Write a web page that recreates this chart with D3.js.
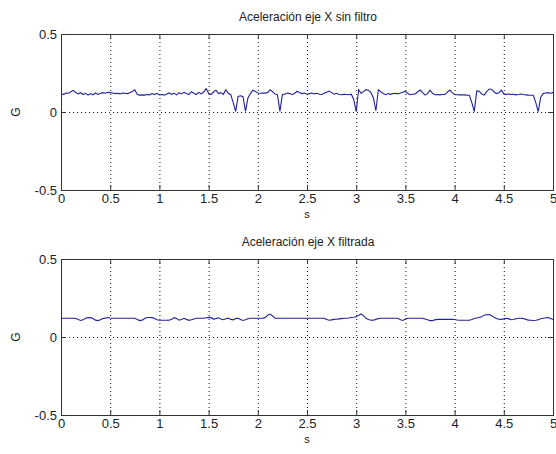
<!DOCTYPE html>
<html>
<head>
<meta charset="utf-8">
<script src="https://cdn.jsdelivr.net/npm/d3@7"></script>
<style>
  body { margin: 0; background: #fff; }
  text { font-family: "Liberation Sans", Arial, sans-serif; fill: #222; }
</style>
</head>
<body>
<div id="chart"></div>
<script>
// samples every 0.025 s, 0 .. 5 s
var step = 0.025;

var rawValues = [
  0.118,0.112,0.122,0.120,0.130,0.139,0.125,0.116,0.124,0.112,
  0.120,0.108,0.118,0.110,0.122,0.113,0.118,0.124,0.120,0.126,
  0.124,0.122,0.118,0.120,0.116,0.122,0.120,0.118,0.124,0.132,
  0.143,0.112,0.108,0.110,0.108,0.112,0.110,0.118,0.112,0.120,
  0.110,0.112,0.108,0.116,0.122,0.113,0.120,0.110,0.124,0.116,
  0.126,0.118,0.112,0.130,0.120,0.112,0.126,0.116,0.128,0.150,
  0.120,0.112,0.128,0.140,0.118,0.124,0.113,0.143,0.120,0.111,
  0.060,0.004,0.100,0.104,0.098,0.004,0.090,0.118,0.140,0.132,
  0.122,0.120,0.122,0.121,0.124,0.143,0.130,0.115,0.110,0.004,
  0.111,0.116,0.122,0.118,0.111,0.120,0.133,0.124,0.118,0.122,
  0.113,0.118,0.122,0.116,0.120,0.114,0.112,0.120,0.126,0.134,
  0.124,0.114,0.120,0.112,0.111,0.113,0.112,0.111,0.114,0.080,
  0.002,0.143,0.120,0.132,0.143,0.140,0.124,0.090,0.008,0.143,
  0.130,0.118,0.111,0.118,0.113,0.118,0.120,0.116,0.122,0.126,
  0.133,0.118,0.111,0.114,0.116,0.130,0.141,0.124,0.108,0.118,
  0.140,0.120,0.111,0.112,0.110,0.112,0.113,0.126,0.141,0.124,
  0.113,0.111,0.110,0.111,0.110,0.108,0.107,0.060,0.002,0.135,
  0.133,0.115,0.108,0.130,0.146,0.146,0.130,0.118,0.124,0.140,
  0.116,0.113,0.115,0.112,0.113,0.110,0.112,0.115,0.112,0.110,
  0.108,0.107,0.107,0.060,0.002,0.095,0.118,0.122,0.124,0.120,
  0.124
];

var filteredValues = [
  0.116,0.120,0.120,0.120,0.120,0.120,0.119,0.112,0.106,0.110,
  0.120,0.124,0.124,0.118,0.108,0.105,0.110,0.118,0.121,0.125,
  0.122,0.120,0.120,0.120,0.120,0.120,0.120,0.120,0.120,0.120,
  0.120,0.112,0.105,0.108,0.118,0.125,0.125,0.124,0.118,0.110,
  0.107,0.107,0.107,0.107,0.108,0.114,0.124,0.118,0.108,0.112,
  0.120,0.113,0.107,0.110,0.116,0.120,0.120,0.120,0.121,0.123,
  0.126,0.124,0.115,0.118,0.123,0.116,0.111,0.117,0.121,0.113,
  0.110,0.118,0.120,0.112,0.106,0.110,0.117,0.120,0.120,0.120,
  0.120,0.120,0.120,0.124,0.140,0.147,0.135,0.121,0.120,0.120,
  0.120,0.120,0.120,0.120,0.120,0.120,0.120,0.120,0.120,0.120,
  0.120,0.120,0.120,0.120,0.120,0.120,0.120,0.120,0.112,0.107,
  0.110,0.113,0.114,0.116,0.118,0.120,0.120,0.122,0.125,0.127,
  0.130,0.140,0.148,0.135,0.120,0.112,0.107,0.108,0.113,0.118,
  0.120,0.120,0.120,0.120,0.120,0.120,0.120,0.120,0.110,0.106,
  0.115,0.120,0.120,0.120,0.120,0.120,0.120,0.120,0.116,0.110,
  0.105,0.105,0.110,0.113,0.113,0.113,0.113,0.113,0.113,0.113,
  0.112,0.109,0.107,0.107,0.107,0.107,0.107,0.112,0.119,0.122,
  0.125,0.130,0.140,0.143,0.144,0.138,0.126,0.119,0.114,0.113,
  0.116,0.120,0.116,0.111,0.112,0.117,0.120,0.120,0.118,0.113,
  0.108,0.107,0.106,0.107,0.111,0.117,0.120,0.123,0.125,0.118,
  0.112
];

var xTicks = [0, 0.5, 1, 1.5, 2, 2.5, 3, 3.5, 4, 4.5, 5];
var yTicks = [-0.5, 0, 0.5];
var titles = ["Aceleración eje X sin filtro", "Aceleración eje X filtrada"];

var W = 556, H = 454;
var left = 61, right = 553, plotH = 156;
var tops = [34, 259];

var svg = d3.select("#chart").append("svg")
    .attr("width", W)
    .attr("height", H);

var x = d3.scaleLinear().domain([0, 5]).range([left, right]);

var line = d3.line()
    .x(function(d, i) { return x(i * step); })
    .y(function(d) { return d; });

// plain hyphen for negatives, like the original figure
var fmt = function(d) { return String(d); };

function drawPanel(top, values, title) {
  var y = d3.scaleLinear().domain([-0.5, 0.5]).range([top + plotH, top]);
  var g = svg.append("g");

  // dotted grid
  g.selectAll(".vgrid")
      .data(xTicks.filter(function(t) { return t > 0 && t < 5; }))
    .enter().append("line")
      .attr("x1", function(d) { return x(d) + 0.5; })
      .attr("x2", function(d) { return x(d) + 0.5; })
      .attr("y1", top)
      .attr("y2", top + plotH)
      .attr("stroke", "#111")
      .attr("stroke-width", 1)
      .attr("stroke-dasharray", "1,3");
  g.selectAll(".hgrid")
      .data([0])
    .enter().append("line")
      .attr("x1", left)
      .attr("x2", right)
      .attr("y1", function(d) { return y(d) + 0.5; })
      .attr("y2", function(d) { return y(d) + 0.5; })
      .attr("stroke", "#111")
      .attr("stroke-width", 1)
      .attr("stroke-dasharray", "1,3");

  // data line
  g.append("path")
      .datum(values.map(function(v) { return y(v); }))
      .attr("fill", "none")
      .attr("stroke", "#22229a")
      .attr("stroke-width", 1.1)
      .attr("d", line);

  // axes with ticks inside, MATLAB style
  var ax = [
    g.append("g").attr("transform", "translate(0," + (top + plotH) + ")")
      .call(d3.axisBottom(x).tickValues(xTicks).tickSize(-5).tickPadding(4).tickFormat(fmt)),
    g.append("g").attr("transform", "translate(0," + top + ")")
      .call(d3.axisTop(x).tickValues(xTicks).tickSize(-5).tickFormat("")),
    g.append("g").attr("transform", "translate(" + left + ",0)")
      .call(d3.axisLeft(y).tickValues(yTicks).tickSize(-5).tickPadding(4).tickFormat(fmt)),
    g.append("g").attr("transform", "translate(" + right + ",0)")
      .call(d3.axisRight(y).tickValues(yTicks).tickSize(-5).tickFormat(""))
  ];
  ax.forEach(function(a) {
    a.select(".domain").remove();
    a.selectAll(".tick line").attr("stroke", "#333");
    a.selectAll("text").style("font-size", "13px").attr("fill", "#333");
  });

  g.append("rect")
      .attr("x", left + 0.5)
      .attr("y", top + 0.5)
      .attr("width", right - left)
      .attr("height", plotH)
      .attr("fill", "none")
      .attr("stroke", "#333")
      .attr("stroke-width", 1);

  g.append("text")
      .attr("x", (left + right) / 2 + 1)
      .attr("y", top - 13)
      .attr("text-anchor", "middle")
      .style("font-size", "12px")
      .text(title);

  g.append("text")
      .attr("x", (left + right) / 2)
      .attr("y", top + plotH + 28)
      .attr("text-anchor", "middle")
      .style("font-size", "11px")
      .text("s");

  g.append("text")
      .attr("transform", "translate(20," + y(0) + ") rotate(-90)")
      .attr("text-anchor", "middle")
      .style("font-size", "12px")
      .text("G");
}

drawPanel(tops[0], rawValues, titles[0]);
drawPanel(tops[1], filteredValues, titles[1]);
</script>
</body>
</html>
